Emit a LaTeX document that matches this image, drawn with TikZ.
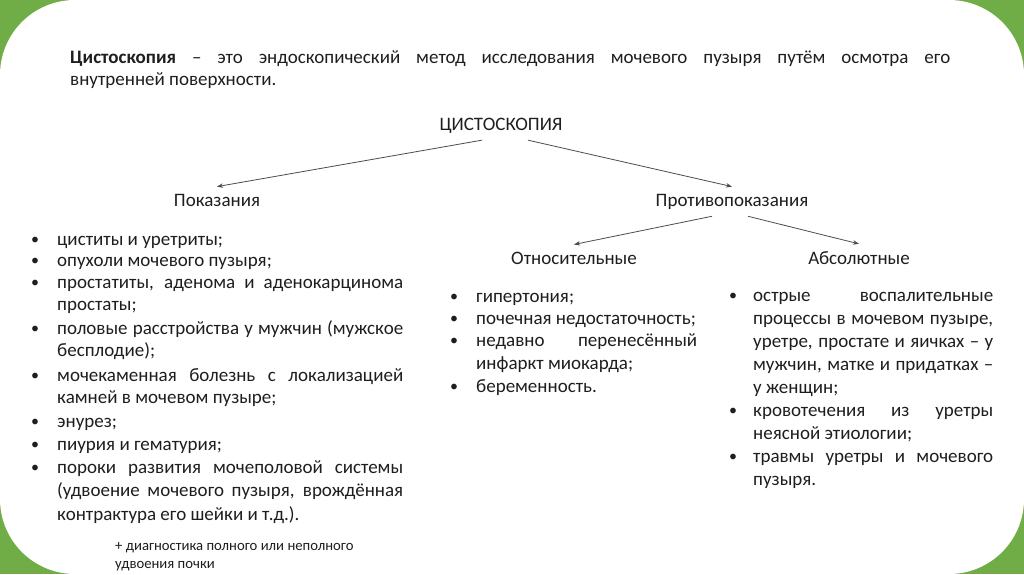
\documentclass[tikz,border=0pt]{standalone}
\usepackage{fontspec}
\setmainfont{Carlito}
\usetikzlibrary{arrows.meta}
\definecolor{gr}{HTML}{70AD47}
\definecolor{tc}{HTML}{1E1E1E}
\newcommand\jl[2]{\makebox[#1][s]{#2}}
\begin{document}
\begin{tikzpicture}[x=1pt,y=-1pt,
  t/.style={anchor=base west, inner sep=0pt, font=\fontsize{19}{22}\selectfont, text=tc},
  h/.style={anchor=base, inner sep=7pt, font=\fontsize{19}{22}\selectfont, text=tc},
  b/.style={anchor=base, inner sep=0pt, font=\fontsize{16}{22}\selectfont, text=tc},
  nt/.style={anchor=base west, inner sep=0pt, font=\fontsize{14.7}{17}\selectfont, text=tc},
  arr/.style={draw=black!70, line width=0.8pt, -{Stealth[length=6pt,width=4.5pt]}}]
\fill[gr] (0,0) rectangle (1024,574);
\fill[white, rounded corners=75pt] (0,0) rectangle (1024,574);
\useasboundingbox (0,0) rectangle (1024,574);

% title
\node[t] (ti1) at (70,63) {\jl{880pt}{\textbf{Цистоскопия} – это эндоскопический метод исследования мочевого пузыря путём осмотра его}};
\node[t] (ti2) at (70,85) {внутренней поверхности.};

% tree
\node[h] (cyst) at (501,130) {ЦИСТОСКОПИЯ};
\node[h] (pokaz) at (217,206) {Показания};
\node[h] (protivo) at (732,206) {Противопоказания};
\node[h] (otnos) at (574,264) {Относительные};
\node[h] (absol) at (859,264) {Абсолютные};

\draw[arr] ([xshift=-19pt]cyst.south) -- (pokaz.north);
\draw[arr] ([xshift=27pt]cyst.south) -- (protivo.north);
\draw[arr] ([xshift=-20pt]protivo.south) -- (otnos.north);
\draw[arr] ([xshift=16pt]protivo.south) -- (absol.north);

% left list
\node[b] (lb1) at (35,244) {•};
\node[t] (l1) at (57,245) {циститы и уретриты;};
\node[b] (lb2) at (35,265) {•};
\node[t] (l2) at (57,266) {опухоли мочевого пузыря;};
\node[b] (lb3) at (35,287) {•};
\node[t] (l3a) at (57,288) {\jl{346pt}{простатиты, аденома и аденокарцинома}};
\node[t] (l3b) at (57,310) {простаты;};
\node[b] (lb4) at (35,333) {•};
\node[t] (l4a) at (57,334) {\jl{346pt}{половые расстройства у мужчин (мужское}};
\node[t] (l4b) at (57,356) {бесплодие);};
\node[b] (lb5) at (35,380) {•};
\node[t] (l5a) at (57,381) {\jl{346pt}{мочекаменная болезнь с локализацией}};
\node[t] (l5b) at (57,403) {камней в мочевом пузыре;};
\node[b] (lb6) at (35,426) {•};
\node[t] (l6) at (57,427) {энурез;};
\node[b] (lb7) at (35,449) {•};
\node[t] (l7) at (57,450) {пиурия и гематурия;};
\node[b] (lb8) at (35,472) {•};
\node[t] (l8a) at (57,473) {\jl{346pt}{пороки развития мочеполовой системы}};
\node[t] (l8b) at (57,496) {\jl{346pt}{(удвоение мочевого пузыря, врождённая}};
\node[t] (l8c) at (57,520) {контрактура его шейки и т.д.).};

% note
\node[nt] (n1) at (115,550) {+ диагностика полного или неполного};
\node[nt] (n2) at (115,568) {удвоения почки};

% middle list
\node[b] (mb1) at (454,301) {•};
\node[t] (m1) at (476,302) {гипертония;};
\node[b] (mb2) at (454,323) {•};
\node[t] (m2) at (476,324) {почечная недостаточность;};
\node[b] (mb3) at (454,345) {•};
\node[t] (m3a) at (476,346) {\jl{221pt}{недавно перенесённый}};
\node[t] (m3b) at (476,369) {инфаркт миокарда;};
\node[b] (mb4) at (454,391) {•};
\node[t] (m4) at (476,392) {беременность.};

% right list
\node[b] (rb1) at (733,300) {•};
\node[t] (r1a) at (753,301) {\jl{240pt}{острые воспалительные}};
\node[t] (r1b) at (753,324) {\jl{240pt}{процессы в мочевом пузыре,}};
\node[t] (r1c) at (753,347) {\jl{240pt}{уретре, простате и яичках – у}};
\node[t] (r1d) at (753,370) {\jl{240pt}{мужчин, матке и придатках –}};
\node[t] (r1e) at (753,393) {у женщин;};
\node[b] (rb2) at (733,415) {•};
\node[t] (r2a) at (753,416) {\jl{240pt}{кровотечения из уретры}};
\node[t] (r2b) at (753,439) {неясной этиологии;};
\node[b] (rb3) at (733,461) {•};
\node[t] (r3a) at (753,462) {\jl{240pt}{травмы уретры и мочевого}};
\node[t] (r3b) at (753,485) {пузыря.};
\end{tikzpicture}
\end{document}
